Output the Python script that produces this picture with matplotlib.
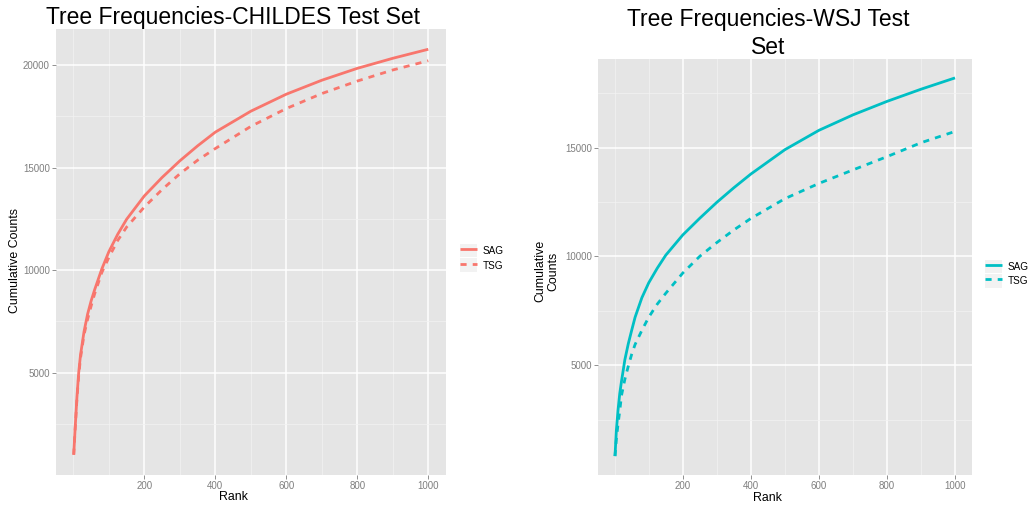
import matplotlib
matplotlib.use("Agg")
import matplotlib.pyplot as plt
from matplotlib.legend_handler import HandlerLine2D
from matplotlib.lines import Line2D
from matplotlib.patches import Rectangle
from matplotlib.ticker import FixedLocator

rank = [1, 5, 10, 15, 20, 30, 40, 50, 60, 80, 100, 125, 150, 200,
        250, 300, 350, 400, 500, 600, 700, 800, 900, 1000]

childes_sag = [1000, 2300, 3800, 5000, 5850, 7000, 7850, 8500, 9050, 10050, 10900, 11750,
               12480, 13620, 14520, 15330, 16060, 16730, 17750, 18580, 19260, 19840, 20330, 20770]
childes_tsg = [1000, 2250, 3700, 4850, 5700, 6850, 7600, 8250, 8850, 9880, 10620, 11450,
               12100, 13080, 13930, 14700, 15360, 15930, 17010, 17880, 18610, 19220, 19760, 20210]

wsj_sag = [820, 2000, 2950, 3700, 4250, 5250, 5980, 6600, 7200, 8100, 8780, 9450,
           10050, 10980, 11750, 12480, 13150, 13780, 14900, 15790, 16500, 17120, 17680, 18200]
wsj_tsg = [820, 1600, 2300, 2900, 3600, 4350, 4950, 5500, 5950, 6600, 7200, 7800,
           8300, 9230, 10000, 10630, 11210, 11740, 12650, 13350, 13970, 14580, 15220, 15740]

series_labels = ["SAG", "TSG"]
x_major = [200, 400, 600, 800, 1000]
x_minor = [0, 100, 300, 500, 700, 900]
y_minor = [2500, 7500, 12500, 17500]

plt.rcParams["font.family"] = ["Liberation Sans", "DejaVu Sans"]

GREY = "#7F7F7F"


class KeyHandler(HandlerLine2D):
    # ggplot style legend key: grey square behind the line
    def create_artists(self, legend, orig_handle, xdescent, ydescent,
                       width, height, fontsize, trans):
        arts = super().create_artists(legend, orig_handle, xdescent, ydescent,
                                      width, height, fontsize, trans)
        bg = Rectangle((-xdescent, -ydescent), width, height,
                       facecolor="#F2F2F2", edgecolor="none", transform=trans)
        return [bg] + list(arts)


def style_panel(ax, yticks, ylims):
    ax.set_facecolor("#E5E5E5")
    for s in ax.spines.values():
        s.set_visible(False)
    ax.set_axisbelow(True)
    ax.xaxis.set_major_locator(FixedLocator(x_major))
    ax.xaxis.set_minor_locator(FixedLocator(x_minor))
    ax.yaxis.set_major_locator(FixedLocator(yticks))
    ax.yaxis.set_minor_locator(FixedLocator(y_minor))
    ax.grid(which="major", color="white", lw=1.1)
    ax.grid(which="minor", color="#F2F2F2", lw=0.55)
    ax.tick_params(which="major", length=2.9, width=0.6, color=GREY,
                   labelcolor=GREY, labelsize=7, pad=1.5)
    ax.tick_params(which="minor", length=0)
    ax.set_xlim(1 - 0.05 * 999, 1000 + 0.05 * 999)
    lo, hi = ylims
    ax.set_ylim(lo - 0.05 * (hi - lo), hi + 0.05 * (hi - lo))


def draw(ax, sag, tsg, color, title, ylabel, yticks, legend_xy, title_lsp=1.2):
    l1, = ax.plot(rank, sag, color=color, lw=2.0, solid_capstyle="butt",
                  solid_joinstyle="round")
    l2, = ax.plot(rank, tsg, color=color, lw=2.0, dashes=(2.2, 2.2))
    style_panel(ax, yticks, (min(sag + tsg), max(sag + tsg)))
    t = ax.set_title(title, fontsize=16.5, pad=3, linespacing=title_lsp)
    t.set_x(0.454)
    ax.set_xlabel("Rank", fontsize=8.9)
    ax.set_ylabel(ylabel, fontsize=8.9, linespacing=1.1)
    ax.legend([l1, l2], series_labels, loc="upper left", bbox_to_anchor=legend_xy,
              frameon=False, fontsize=7.2, borderpad=0, handlelength=1.75,
              handleheight=1.75, labelspacing=0.1, handletextpad=0.5,
              handler_map={Line2D: KeyHandler()})


fig = plt.figure(figsize=(10.32, 5.08), dpi=100)
W, H = 1032, 508

ax1 = fig.add_axes([56 / W, 1 - 475 / H, 390 / W, 446 / H])
draw(ax1, childes_sag, childes_tsg, "#F8766D", "Tree Frequencies-CHILDES Test Set",
     "Cumulative Counts", [5000, 10000, 15000, 20000], (1.023, 0.53))
ax1.xaxis.set_label_coords(0.456, -0.036)
ax1.yaxis.set_label_coords(-0.09, 0.482)

ax2 = fig.add_axes([598 / W, 1 - 475 / H, 374 / W, 416 / H])
draw(ax2, wsj_sag, wsj_tsg, "#00BFC4", "Tree Frequencies-WSJ Test\nSet",
     "Cumulative\nCounts", [5000, 10000, 15000], (1.021, 0.53), title_lsp=1.3)
ax2.xaxis.set_label_coords(0.452, -0.041)
ax2.yaxis.set_label_coords(-0.104, 0.49)

fig.savefig("out.png", dpi=100)
